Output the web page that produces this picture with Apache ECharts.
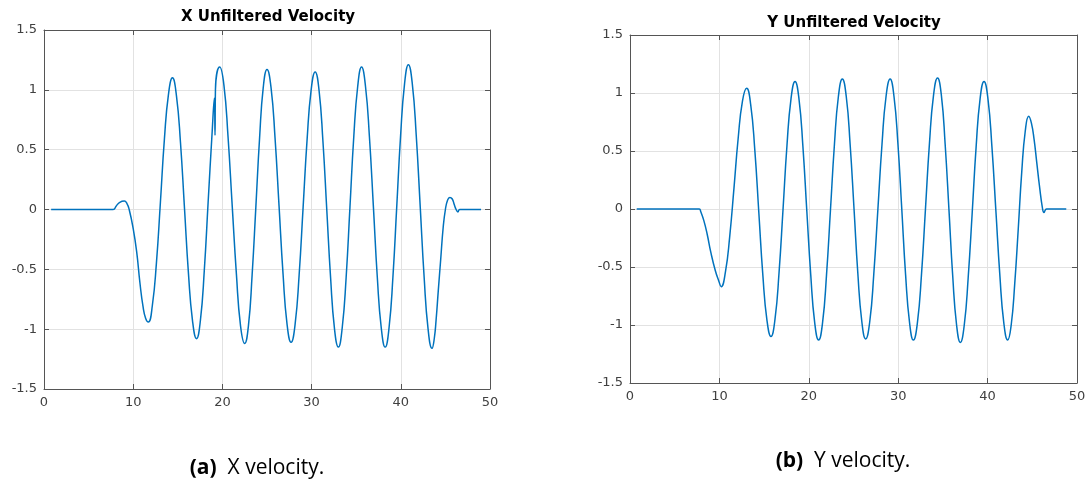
<!DOCTYPE html>
<html>
<head>
<meta charset="utf-8">
<script src="https://cdn.jsdelivr.net/npm/echarts@6/dist/echarts.min.js"></script>
<style>
  html, body { margin: 0; padding: 0; background: #fff; }
  #report { width: 1091px; height: 485px; }
</style>
</head>
<body>
<div id="report"></div>
<script>
// tick labels
var timeTicks = [0, 10, 20, 30, 40, 50];
var velTicks = [-1.5, -1, -0.5, 0, 0.5, 1, 1.5];

// X velocity
var xTime = [0.8, 4.0, 7.75, 8.1, 8.5, 9.0, 9.3, 9.55, 10.0, 10.4, 10.75, 11.1, 11.4, 11.7,
  12.15, 12.6, 13.05, 13.5, 13.95, 14.4, 14.85, 15.3, 15.75, 16.2, 16.65, 17.1,
  17.53, 17.97, 18.4, 18.83, 19.1, 19.17, 19.22, 19.7, 20.17, 20.63, 21.1, 21.57, 22.03, 22.5,
  22.92, 23.33, 23.75, 24.17, 24.58, 25.0, 25.45, 25.9, 26.35, 26.8, 27.25, 27.7,
  28.15, 28.6, 29.05, 29.5, 29.95, 30.4, 30.83, 31.27, 31.7, 32.13, 32.57, 33.0,
  33.43, 33.87, 34.3, 34.73, 35.17, 35.6, 36.04, 36.48, 36.93, 37.37, 37.81, 38.25,
  38.68, 39.12, 39.55, 39.98, 40.42, 40.85, 41.29, 41.73, 42.18, 42.62, 43.06, 43.5,
  43.75, 43.96, 44.2, 44.47, 44.75, 45.0, 45.25, 45.5, 45.75, 46.0, 46.2, 46.4, 46.6, 49.0];
var xVel = [0, 0, 0, 0.03, 0.06, 0.07, 0.05, 0.0, -0.16, -0.36, -0.61, -0.81, -0.91, -0.94,
  -0.80, -0.45, 0.06, 0.59, 0.96, 1.10, 0.95, 0.56, 0.01, -0.54, -0.93, -1.08,
  -0.93, -0.51, 0.06, 0.62, 0.93, 0.62, 1.0, 1.19, 1.04, 0.61, 0.03, -0.54, -0.97, -1.12,
  -0.97, -0.55, 0.02, 0.60, 1.02, 1.17, 1.02, 0.60, 0.03, -0.54, -0.96, -1.11,
  -0.96, -0.55, 0.02, 0.59, 1.0, 1.15, 1.0, 0.57, 0.0, -0.57, -1.0, -1.15,
  -0.99, -0.57, 0.02, 0.61, 1.03, 1.19, 1.03, 0.61, 0.02, -0.57, -0.99, -1.15,
  -0.99, -0.56, 0.03, 0.62, 1.05, 1.21, 1.05, 0.62, 0.02, -0.57, -1.0, -1.16,
  -1.08, -0.92, -0.68, -0.42, -0.15, 0.0, 0.08, 0.10, 0.09, 0.04, 0.0, -0.02, 0.0, 0.0];

// Y velocity
var yTime = [0.75, 4.0, 7.75, 7.9, 8.26, 8.64, 9.03, 9.54, 9.93, 10.2,
  10.68, 11.15, 11.63, 12.1, 12.58, 13.05, 13.5, 13.96, 14.41, 14.86, 15.32, 15.77,
  16.22, 16.67, 17.12, 17.56, 18.01, 18.46, 18.9, 19.34, 19.78, 20.22, 20.66, 21.1,
  21.54, 21.98, 22.43, 22.87, 23.31, 23.75, 24.19, 24.62, 25.06, 25.49, 25.93, 26.36,
  26.82, 27.27, 27.73, 28.19, 28.64, 29.1, 29.53, 29.97, 30.4, 30.83, 31.27, 31.7,
  32.15, 32.6, 33.05, 33.5, 33.95, 34.4, 34.83, 35.25, 35.68, 36.1, 36.53, 36.95,
  37.39, 37.83, 38.28, 38.72, 39.16, 39.6, 40.04, 40.48, 40.93, 41.37, 41.81, 42.25,
  42.64, 43.03, 43.43, 43.82, 44.21, 44.6, 44.9, 45.2, 45.5, 45.8, 46.15, 46.3, 46.45, 46.6, 48.8];
var yVel = [0, 0, 0, -0.02, -0.10, -0.22, -0.37, -0.53, -0.62, -0.67,
  -0.54, -0.24, 0.18, 0.61, 0.93, 1.04, 0.90, 0.51, -0.03, -0.57, -0.96, -1.10,
  -0.95, -0.55, 0.0, 0.55, 0.95, 1.10, 0.95, 0.54, -0.02, -0.57, -0.98, -1.13,
  -0.98, -0.57, 0.0, 0.56, 0.97, 1.12, 0.97, 0.56, 0.0, -0.56, -0.97, -1.12,
  -0.97, -0.56, 0.0, 0.56, 0.97, 1.12, 0.97, 0.56, 0.0, -0.57, -0.98, -1.13,
  -0.98, -0.57, 0.0, 0.57, 0.98, 1.13, 0.98, 0.56, -0.01, -0.58, -1.0, -1.15,
  -1.0, -0.59, -0.03, 0.54, 0.95, 1.10, 0.95, 0.54, -0.02, -0.57, -0.98, -1.13,
  -1.0, -0.65, -0.17, 0.32, 0.67, 0.80, 0.74, 0.60, 0.40, 0.20, 0.0, -0.03, -0.01, 0.0, 0.0];

function pairs(ts, vs) {
    return ts.map(function (t, i) { return [t, vs[i]]; });
}

var axisColor = '#555';
var labelStyle = { color: '#404040', fontSize: 13, fontFamily: 'DejaVu Sans' };

function xAx(g, pos, main) {
    return {
        type: 'value', gridIndex: g, position: pos,
        min: timeTicks[0], max: timeTicks[timeTicks.length - 1],
        interval: timeTicks[1] - timeTicks[0],
        axisLine: { show: true, onZero: false, lineStyle: { color: axisColor, width: 1 } },
        axisTick: { show: true, inside: true, length: 5, lineStyle: { color: axisColor } },
        axisLabel: Object.assign({ show: main, margin: 7 }, labelStyle),
        splitLine: { show: main, lineStyle: { color: '#e2e2e2' } }
    };
}
function yAx(g, pos, main) {
    return {
        type: 'value', gridIndex: g, position: pos,
        min: velTicks[0], max: velTicks[velTicks.length - 1],
        interval: velTicks[1] - velTicks[0],
        axisLine: { show: true, onZero: false, lineStyle: { color: axisColor, width: 1 } },
        axisTick: { show: true, inside: true, length: 5, lineStyle: { color: axisColor } },
        axisLabel: Object.assign({ show: main, margin: 7 }, labelStyle),
        splitLine: { show: main, lineStyle: { color: '#e2e2e2' } }
    };
}

var lineSeries = function (x, y, data) {
    return {
        type: 'line', xAxisIndex: x, yAxisIndex: y, data: data,
        showSymbol: false, smooth: 0.5,
        lineStyle: { color: '#0072BD', width: 1.5 }
    };
};

var capRich = {
    b: { fontWeight: 'bold', fontSize: 21, fontFamily: 'Open Sans', fill: '#000' },
    n: { fontSize: 21, fontFamily: 'Open Sans', fill: '#000' }
};

var myChart = echarts.init(document.getElementById('report'));
var option = {
    animation: false,
    backgroundColor: '#fff',
    grid: [
        { left: 44, top: 30, width: 446, height: 359 },
        { left: 630, top: 35, width: 447, height: 348 }
    ],
    xAxis: [xAx(0, 'bottom', true), xAx(0, 'top', false), xAx(1, 'bottom', true), xAx(1, 'top', false)],
    yAxis: [yAx(0, 'left', true), yAx(0, 'right', false), yAx(1, 'left', true), yAx(1, 'right', false)],
    series: [
        lineSeries(0, 0, pairs(xTime, xVel)),
        lineSeries(2, 2, pairs(yTime, yVel))
    ],
    graphic: [
        { type: 'text', x: 268, y: 17, style: { text: 'X Unfiltered Velocity', align: 'center', verticalAlign: 'middle', font: 'bold 15px "DejaVu Sans"', fill: '#000' } },
        { type: 'text', x: 854, y: 23, style: { text: 'Y Unfiltered Velocity', align: 'center', verticalAlign: 'middle', font: 'bold 15px "DejaVu Sans"', fill: '#000' } },
        { type: 'text', x: 257, y: 468, style: { text: '{b|(a)}{n|  X velocity.}', align: 'center', verticalAlign: 'middle', rich: capRich } },
        { type: 'text', x: 843, y: 461, style: { text: '{b|(b)}{n|  Y velocity.}', align: 'center', verticalAlign: 'middle', rich: capRich } }
    ]
};
myChart.setOption(option);
</script>
</body>
</html>
